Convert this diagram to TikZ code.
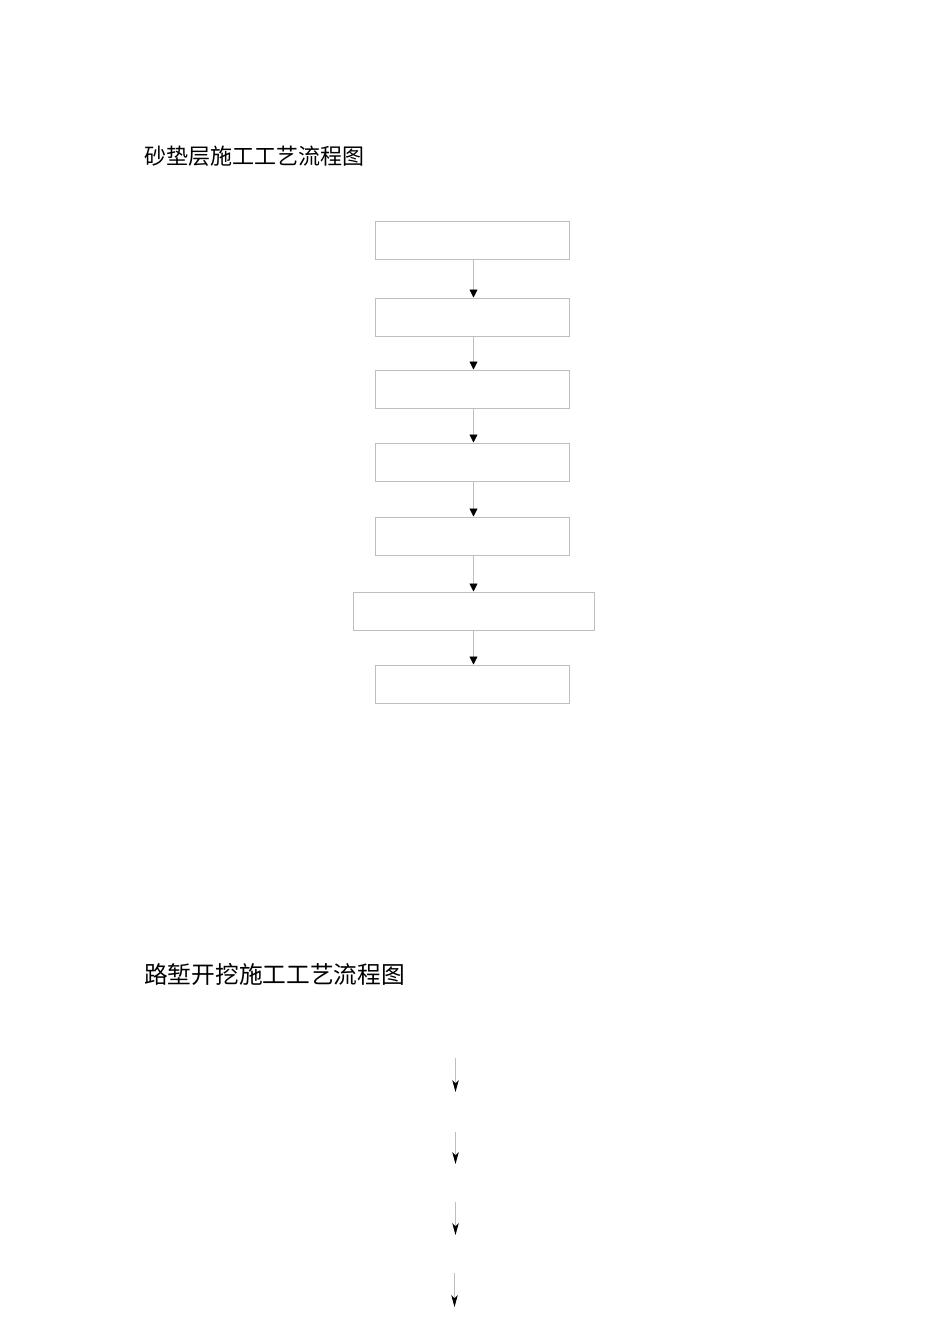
\documentclass[tikz,border=0pt]{standalone}
\usepackage{fontspec}
\newfontfamily\cjk{Noto Sans CJK SC}
\usetikzlibrary{arrows.meta}
\definecolor{boxgray}{RGB}{190,190,190}
\begin{document}
\begin{tikzpicture}[x=1pt,y=-1pt,
  stepbox/.style={draw=boxgray,line width=1pt,minimum height=38pt,inner sep=0pt},
  flow/.style={draw=boxgray,line width=0.8pt,-{Triangle[length=8pt,width=8pt,fill=black,color=black]}},
  flowv/.style={draw=boxgray,line width=0.8pt,-{Stealth[length=12pt,width=6.5pt,inset=3.5pt,fill=black,color=black]}},
  title/.style={anchor=west,inner sep=0pt}]
\useasboundingbox (0,0) rectangle (950,1344);
\node[title,font=\cjk\fontsize{22}{24}\selectfont] (t1) at (144,156) {砂垫层施工工艺流程图};
\node[title,font=\cjk\fontsize{23.7}{26}\selectfont] (t2) at (144,974) {路堑开挖施工工艺流程图};
\node[stepbox,minimum width=194pt] (b1) at (472,240.5) {};
\node[stepbox,minimum width=194pt] (b2) at (472,317) {};
\node[stepbox,minimum width=194pt] (b3) at (472,389) {};
\node[stepbox,minimum width=194pt] (b4) at (472,462) {};
\node[stepbox,minimum width=194pt] (b5) at (472,536) {};
\node[stepbox,minimum width=241pt] (b6) at (473.5,611) {};
\node[stepbox,minimum width=194pt] (b7) at (472,684) {};
\foreach \a/\b in {b1/b2,b2/b3,b3/b4,b4/b5,b5/b6,b6/b7}
  \draw[flow] (\a.south -| 473.5,0) -- (\b.north -| 473.5,0);
\coordinate (p1) at (455.5,1058);
\coordinate (q1) at (455.5,1092);
\coordinate (p2) at (455.5,1132);
\coordinate (q2) at (455.5,1164);
\coordinate (p3) at (455.5,1202);
\coordinate (q3) at (455.5,1235);
\coordinate (p4) at (454.5,1273);
\coordinate (q4) at (454.5,1307);
\foreach \i in {1,2,3,4}
  \draw[flowv] (p\i) -- (q\i);
\end{tikzpicture}
\end{document}
